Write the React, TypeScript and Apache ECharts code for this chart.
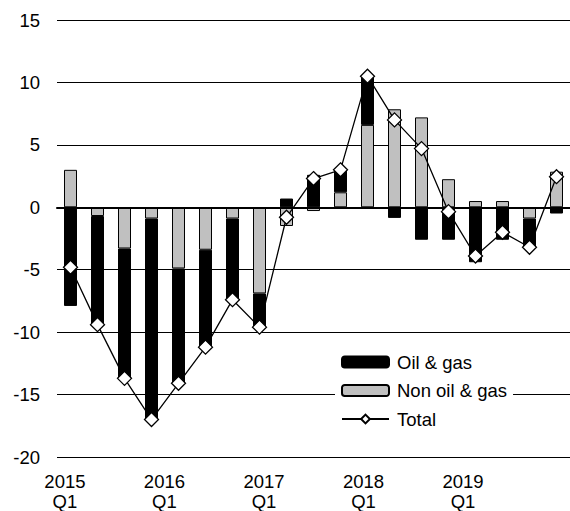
import React, { useEffect, useRef } from "react";
import * as echarts from "echarts";

const quarters = [
  "2015Q1", "2015Q2", "2015Q3", "2015Q4",
  "2016Q1", "2016Q2", "2016Q3", "2016Q4",
  "2017Q1", "2017Q2", "2017Q3", "2017Q4",
  "2018Q1", "2018Q2", "2018Q3", "2018Q4",
  "2019Q1", "2019Q2", "2019Q3",
];
const oilGas = [-7.9, -8.7, -10.4, -16.1, -9.2, -7.8, -6.5, -2.7, 0.7, 2.6, 1.8, 3.9, -0.85, -2.6, -2.6, -4.4, -2.6, -2.3, -0.5];
const nonOilGas = [3.0, -0.7, -3.3, -0.9, -4.9, -3.4, -0.9, -6.9, -1.5, -0.3, 1.2, 6.6, 7.85, 7.2, 2.25, 0.5, 0.5, -0.9, 2.85];
const totalVals = [-4.8, -9.4, -13.7, -17.0, -14.1, -11.2, -7.4, -9.6, -0.8, 2.3, 3.0, 10.5, 7.0, 4.7, -0.35, -3.9, -2.0, -3.2, 2.45];
const yearLabels = ["2015\nQ1", "2016\nQ1", "2017\nQ1", "2018\nQ1", "2019\nQ1"];
const yearPositions = [0, 1, 2, 3, 4];

const FONT = "'Liberation Sans', Arial, sans-serif";

export default function App() {
  const ref = useRef<HTMLDivElement>(null);
  useEffect(() => {
    if (!ref.current) return;
    const chart = echarts.init(ref.current, undefined, { renderer: "svg" });
    chart.setOption({
      animation: false,
      backgroundColor: "#fff",
      textStyle: { fontFamily: FONT },
      grid: { left: 57, top: 20, width: 518, height: 437.5, containLabel: false },
      legend: {
        orient: "vertical",
        left: 335,
        top: 346,
        padding: [6, 6, 6, 6],
        backgroundColor: "#fff",
        itemWidth: 47,
        itemHeight: 11,
        itemGap: 8.5,
        data: ["Oil & gas", "Non oil & gas", "Total"],
        textStyle: { fontFamily: FONT, fontSize: 18.5, color: "#000", lineHeight: 20, padding: [0, 0, 0, 3] },
      },
      xAxis: [
        {
          type: "category",
          data: quarters,
          z: 3,
          axisLine: { onZero: true, lineStyle: { color: "#000", width: 2 } },
          axisTick: { show: false },
          axisLabel: { show: false },
          splitLine: { show: false },
        },
        {
          type: "value",
          position: "bottom",
          min: -0.0796,
          max: 5.0746,
          axisLine: { show: false },
          axisTick: { show: false },
          splitLine: { show: false },
          axisLabel: {
            customValues: yearPositions,
            formatter: (v: number) => yearLabels[Math.round(v)] ?? "",
            fontFamily: FONT,
            fontSize: 18.5,
            lineHeight: 19.5,
            color: "#000",
            margin: 15,
          },
        },
      ],
      yAxis: {
        type: "value",
        min: -20,
        max: 15,
        interval: 5,
        axisLine: { show: false },
        axisTick: { show: false },
        axisLabel: { fontFamily: FONT, fontSize: 18.5, color: "#000", margin: 17 },
        splitLine: { lineStyle: { color: "#000", width: 1 } },
      },
      series: [
        {
          name: "Non oil & gas",
          type: "bar",
          stack: "s",
          xAxisIndex: 0,
          data: nonOilGas,
          barWidth: 13,
          z: 2,
          itemStyle: { color: "#c0c0c0", borderColor: "#000", borderWidth: 1 },
        },
        {
          name: "Oil & gas",
          type: "bar",
          stack: "s",
          xAxisIndex: 0,
          data: oilGas,
          barWidth: 13,
          z: 2,
          itemStyle: { color: "#000", borderColor: "#000", borderWidth: 1 },
        },
        {
          name: "Total",
          type: "line",
          xAxisIndex: 0,
          data: totalVals,
          z: 4,
          symbol: "diamond",
          symbolSize: 14,
          lineStyle: { color: "#000", width: 1.3 },
          itemStyle: { color: "#fff", borderColor: "#000", borderWidth: 1.3 },
        },
      ],
    });
    return () => chart.dispose();
  }, []);
  return (
    <div
      ref={ref}
      style={{ position: "absolute", left: 0, top: 0, width: 570, height: 511 }}
    />
  );
}
